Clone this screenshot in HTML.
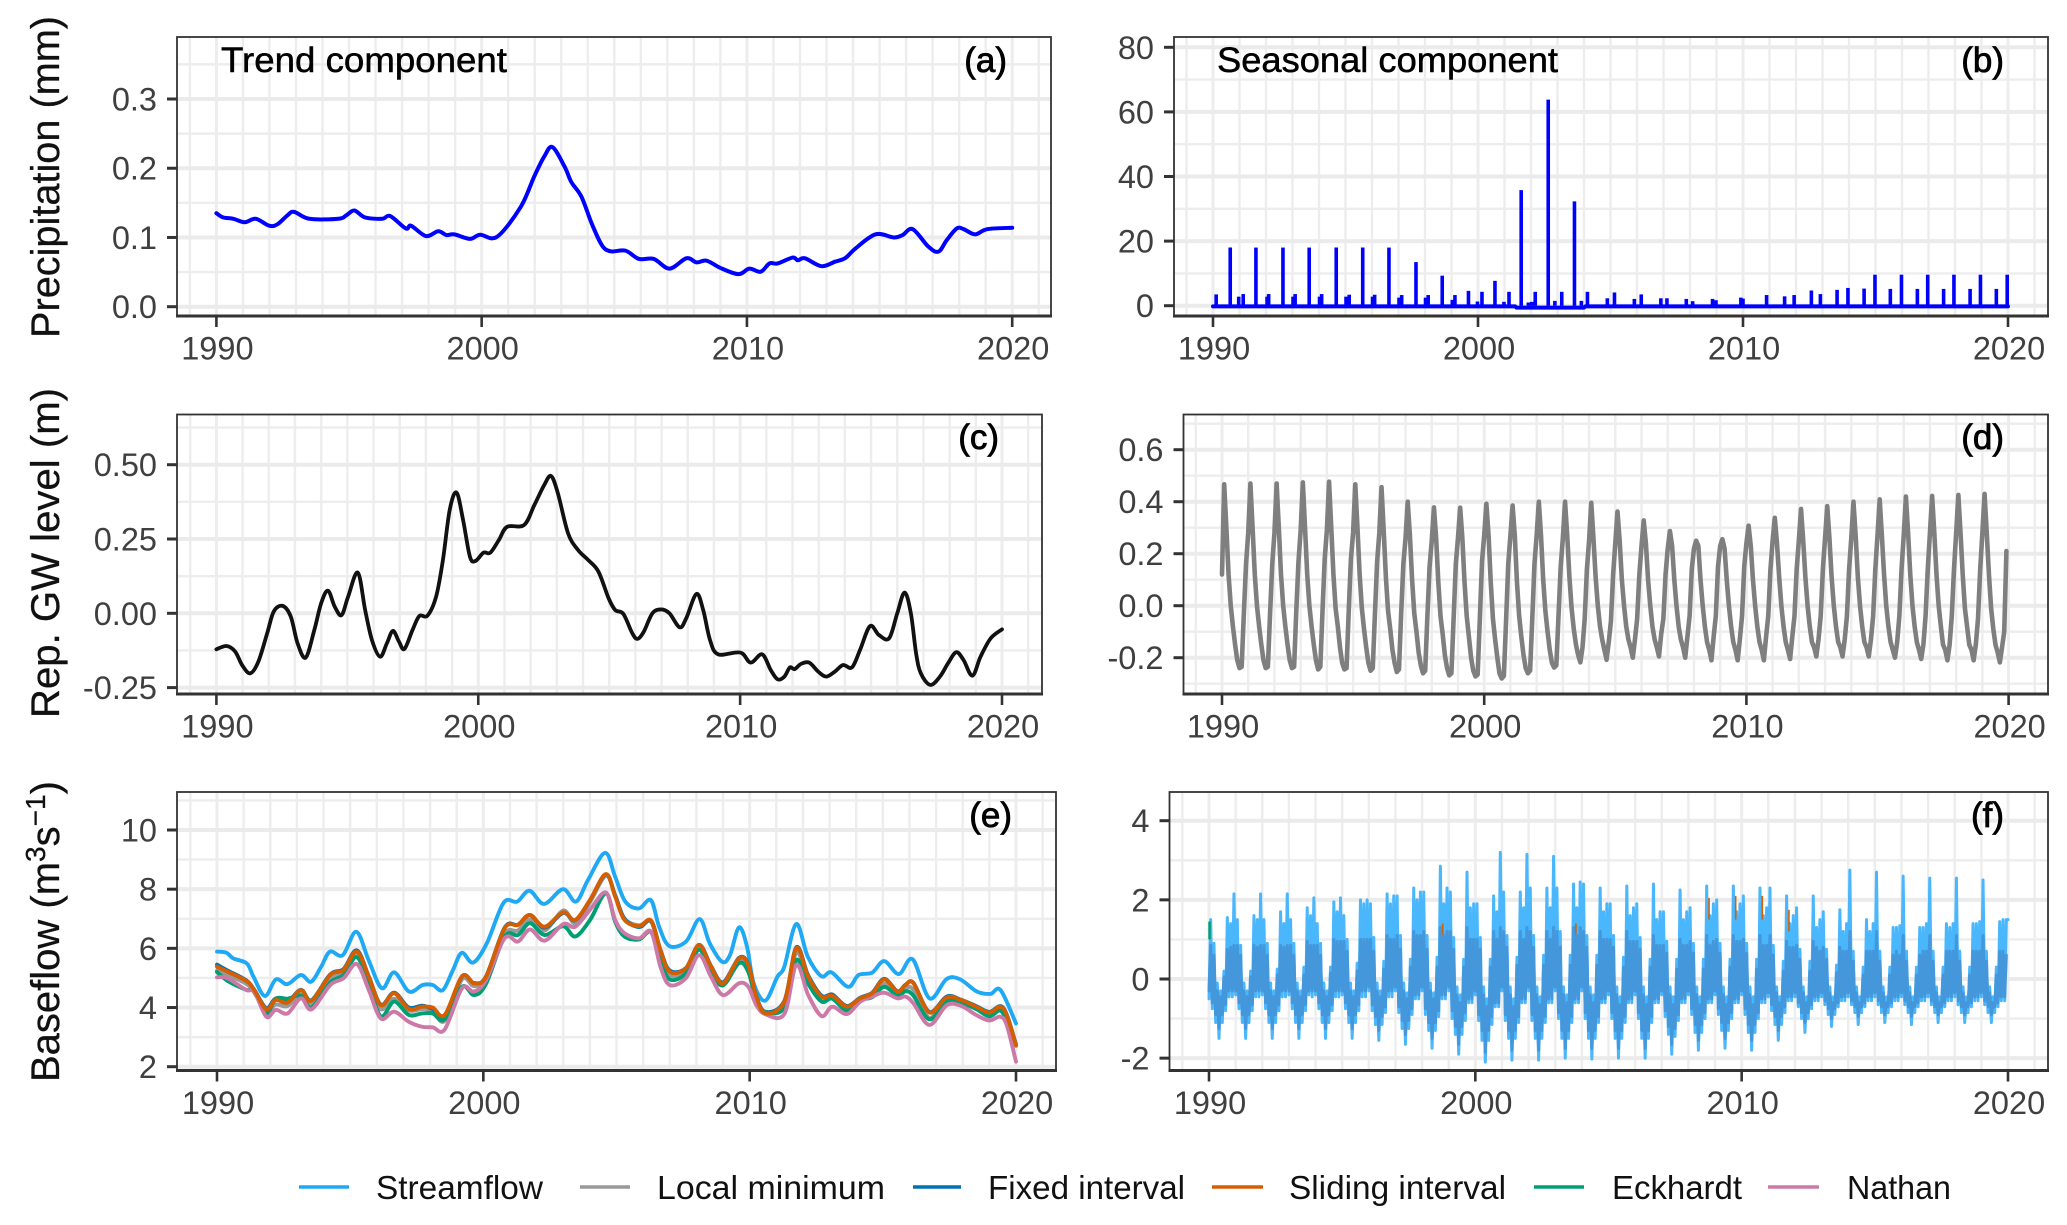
<!DOCTYPE html>
<html lang="en">
<head>
<meta charset="utf-8">
<title>Trend and seasonal components of precipitation, groundwater level and baseflow</title>
<style>
html,body{margin:0;padding:0;background:#fff;width:2067px;height:1225px;overflow:hidden}
svg{display:block}
text{font-family:"Liberation Sans",Arial,sans-serif}
.axt{font-size:40px;fill:#111;stroke:#111;stroke-width:.3px}
.ttl{font-size:35px;fill:#000;stroke:#000;stroke-width:.5px}
.tag{font-size:35px;fill:#000;stroke:#000;stroke-width:.8px}
.leg{font-size:33px;fill:#111}
</style>
</head>
<body>
<svg id="figure" xmlns="http://www.w3.org/2000/svg" width="2067" height="1225" viewBox="0 0 2067 1225">
<rect x="0" y="0" width="2067" height="1225" fill="#fff"/>
<g id="panels"></g>
<text class="axt" transform="translate(59,338) rotate(-90)" textLength="322" lengthAdjust="spacingAndGlyphs">Precipitation (mm)</text>
<text class="axt" transform="translate(59,718) rotate(-90)" textLength="330" lengthAdjust="spacingAndGlyphs">Rep. GW level (m)</text>
<text class="axt" transform="translate(59,1082) rotate(-90)">Baseflow (m<tspan font-size="28" dy="-14">3</tspan><tspan dy="14">s</tspan><tspan font-size="28" dy="-14">−1</tspan><tspan dy="14">)</tspan></text>
<text class="ttl" x="221" y="72" textLength="286" lengthAdjust="spacingAndGlyphs">Trend component</text>
<text class="ttl" x="1217" y="72" textLength="341" lengthAdjust="spacingAndGlyphs">Seasonal component</text>
<text class="tag" x="1007" y="72" text-anchor="end">(a)</text>
<text class="tag" x="2004" y="72" text-anchor="end">(b)</text>
<text class="tag" x="999" y="449" text-anchor="end">(c)</text>
<text class="tag" x="2004" y="449" text-anchor="end">(d)</text>
<text class="tag" x="1012" y="827" text-anchor="end">(e)</text>
<text class="tag" x="2004" y="827" text-anchor="end">(f)</text>
<g>
<line x1="299" x2="349" y1="1187" y2="1187" stroke="#1FA9F5" stroke-width="3.5"/>
<text class="leg" x="376" y="1199" textLength="167" lengthAdjust="spacingAndGlyphs">Streamflow</text>
<line x1="580" x2="630" y1="1187" y2="1187" stroke="#999999" stroke-width="3.5"/>
<text class="leg" x="657" y="1199" textLength="228" lengthAdjust="spacingAndGlyphs">Local minimum</text>
<line x1="913" x2="961" y1="1187" y2="1187" stroke="#0072B2" stroke-width="3.5"/>
<text class="leg" x="988" y="1199" textLength="197" lengthAdjust="spacingAndGlyphs">Fixed interval</text>
<line x1="1212" x2="1263" y1="1187" y2="1187" stroke="#D55E00" stroke-width="3.5"/>
<text class="leg" x="1289" y="1199" textLength="217" lengthAdjust="spacingAndGlyphs">Sliding interval</text>
<line x1="1534" x2="1584" y1="1187" y2="1187" stroke="#009E73" stroke-width="3.5"/>
<text class="leg" x="1612" y="1199" textLength="130" lengthAdjust="spacingAndGlyphs">Eckhardt</text>
<line x1="1768" x2="1819" y1="1187" y2="1187" stroke="#CC79A7" stroke-width="3.5"/>
<text class="leg" x="1847" y="1199" textLength="104" lengthAdjust="spacingAndGlyphs">Nathan</text>
</g>
</svg>
<script>
// ---- shared tick data ----
const xTickYears = [1990, 2000, 2010, 2020];
const xTickLabels = ['1990', '2000', '2010', '2020'];

const aYTicks = [0, 0.1, 0.2, 0.3];
const aYLabels = ['0.0', '0.1', '0.2', '0.3'];
const bYTicks = [0, 20, 40, 60, 80];
const bYLabels = ['0', '20', '40', '60', '80'];
const cYTicks = [-0.25, 0, 0.25, 0.5];
const cYLabels = ['-0.25', '0.00', '0.25', '0.50'];
const dYTicks = [-0.2, 0, 0.2, 0.4, 0.6];
const dYLabels = ['-0.2', '0.0', '0.2', '0.4', '0.6'];
const eYTicks = [2, 4, 6, 8, 10];
const eYLabels = ['2', '4', '6', '8', '10'];
const fYTicks = [-2, 0, 2, 4];
const fYLabels = ['-2', '0', '2', '4'];

// ---- (a) precipitation trend: years since 1990, value in mm ----
const aYears = [0,.25,.64,1.07,1.48,1.99,2.3,2.68,2.93,3.5,4.6,4.9,5.2,5.6,6.25,6.55,7.14,7.34,7.9,8.36,8.67,8.97,9.56,9.94,10.58,11.47,11.98,12.36,12.67,13.13,13.38,13.76,14.15,14.53,14.86,15.42,15.93,16.49,17.08,17.72,18.1,18.48,19,19.68,20.09,20.52,20.85,21.16,21.72,21.92,22.18,22.81,23.32,23.7,24.09,24.85,25.54,25.87,26.25,26.84,27.22,27.53,27.91,28.17,28.6,29.06,30];
const aValues = [.135,.129,.127,.122,.127,.117,.119,.132,.137,.127,.127,.132,.139,.129,.127,.131,.113,.117,.102,.109,.1035,.1045,.098,.104,.101,.144,.188,.217,.2305,.202,.18,.159,.12,.089,.08,.081,.069,.069,.055,.07,.064,.0665,.056,.047,.055,.0505,.0625,.0625,.071,.067,.07,.0585,.065,.07,.084,.1045,.1,.1035,.112,.0867,.0795,.096,.113,.112,.1045,.112,.114];

// ---- (b) precipitation seasonal spikes: years since 1990, value in mm ----
const bSpikeYears = [.12,.65,.97,1.14,1.62,2.04,2.1,2.64,3.02,3.1,3.63,4.02,4.1,4.65,5.02,5.14,5.65,6.02,6.1,6.64,7.02,7.12,7.66,8.02,8.12,8.65,9.03,9.13,9.64,9.98,10.15,10.64,10.98,11.17,11.63,11.9,12.03,12.16,12.65,12.9,13.16,13.64,13.9,14.13,14.88,15.15,15.9,16.16,16.9,17.13,17.86,18.1,18.85,18.98,19.92,20.0,20.89,21.57,21.93,22.58,22.92,23.55,23.96,24.57,24.98,25.56,25.98,26.58,26.97,27.57,27.96,28.57,28.96,29.56,29.97];
const bSpikeValues = [3.5,18,2.8,3.6,18,2.8,3.6,18,2.8,3.6,18,2.8,3.6,18,2.8,3.4,18,2.8,3.4,18,2.5,3.3,13.5,2.5,3.3,9.3,1.8,3.3,4.6,1.3,4.3,7.7,1.2,4.3,35.8,1,1.2,4.3,63.8,1.5,4.3,32.3,1.5,4.3,2.3,4.1,2.1,3.5,2.3,2.3,2.1,1.4,2.1,1.7,2.5,2.2,3.3,2.9,3.3,4.7,3.6,4.9,5.5,5.3,9.6,5.2,9.6,5.2,9.6,5.2,9.6,5.2,9.6,5.2,9.6];
const bBaseYears = [0,11.4,11.45,14.0,14.05,30];
const bBaseValues = [-.2,-.2,-.6,-.6,-.2,-.2];

// ---- (c) groundwater trend ----
const cYears = [0,.39,.72,.98,1.29,1.6,1.94,2.19,2.53,2.84,3.1,3.41,3.74,4,4.26,4.52,4.78,5.03,5.4,5.68,5.94,6.25,6.51,6.74,6.97,7.18,7.49,7.75,8.06,8.39,8.65,8.91,9.17,9.42,9.68,9.89,10.2,10.46,10.79,11.1,11.75,12.14,12.52,12.78,13.04,13.43,13.81,14.2,14.59,14.98,15.23,15.54,15.88,16.08,16.32,16.65,16.99,17.3,17.69,17.94,18.33,18.59,18.85,19.16,20.01,20.4,20.84,21.17,21.43,21.69,21.9,22.08,22.33,22.64,22.98,23.29,23.62,23.93,24.27,24.58,24.96,25.3,25.69,26,26.28,26.52,26.72,26.9,27.26,27.63,27.94,28.25,28.53,28.87,29.18,29.57,30];
const cValues = [-.121,-.11,-.129,-.174,-.202,-.163,-.067,.006,.025,-.011,-.101,-.149,-.056,.034,.076,.022,-.006,.056,.137,.011,-.09,-.146,-.101,-.059,-.095,-.12,-.056,-.009,-.008,.056,.179,.348,.406,.314,.191,.176,.204,.204,.247,.291,.297,.364,.432,.462,.404,.269,.213,.179,.14,.05,.011,-.002,-.067,-.086,-.062,0,.013,0,-.047,-.017,.065,.011,-.09,-.138,-.132,-.166,-.138,-.191,-.222,-.213,-.182,-.188,-.17,-.166,-.196,-.213,-.196,-.174,-.182,-.123,-.043,-.073,-.084,0,.07,0,-.135,-.202,-.241,-.213,-.168,-.131,-.157,-.21,-.146,-.084,-.054];

// ---- (d) groundwater seasonal: 12 readings per year, 1990 to 2019 ----
const dStepsPerYear = 12;
const dValues = [
 .12,.467,.30,.12,.0,-.08,-.15,-.21,-.24,-.235,-.03,.16,
 .28,.47,.30,.12,.0,-.08,-.15,-.21,-.24,-.235,-.03,.16,
 .28,.47,.30,.12,.0,-.08,-.15,-.21,-.24,-.235,-.02,.17,
 .29,.474,.30,.12,.0,-.08,-.15,-.21,-.245,-.235,-.02,.18,
 .29,.477,.30,.12,-.01,-.08,-.16,-.22,-.245,-.24,-.02,.18,
 .28,.467,.30,.12,-.01,-.09,-.16,-.22,-.25,-.24,-.03,.17,
 .28,.456,.29,.11,-.02,-.09,-.17,-.22,-.255,-.245,-.03,.16,
 .26,.40,.27,.10,-.03,-.10,-.18,-.23,-.26,-.25,-.04,.15,
 .25,.378,.26,.09,-.04,-.11,-.19,-.24,-.268,-.26,-.05,.16,
 .26,.377,.26,.09,-.04,-.12,-.20,-.25,-.272,-.265,-.05,.17,
 .27,.392,.27,.09,-.05,-.13,-.20,-.26,-.28,-.27,-.06,.16,
 .27,.385,.27,.09,-.04,-.12,-.19,-.24,-.26,-.25,-.05,.16,
 .27,.40,.27,.10,-.02,-.10,-.17,-.22,-.238,-.23,-.04,.15,
 .26,.40,.27,.11,-.01,-.09,-.15,-.19,-.218,-.16,-.05,.14,
 .25,.396,.26,.11,.0,-.08,-.13,-.17,-.208,-.14,-.06,.12,
 .24,.362,.25,.10,.0,-.08,-.13,-.16,-.20,-.13,-.05,.12,
 .23,.328,.24,.10,.0,-.08,-.13,-.16,-.195,-.11,-.05,.12,
 .22,.287,.23,.10,.0,-.08,-.13,-.16,-.20,-.12,-.04,.14,
 .22,.25,.23,.10,.0,-.08,-.14,-.17,-.21,-.12,-.04,.15,
 .23,.256,.22,.10,.0,-.08,-.14,-.17,-.21,-.13,-.04,.15,
 .24,.308,.23,.10,.0,-.08,-.14,-.17,-.21,-.12,-.04,.14,
 .25,.338,.24,.11,.0,-.08,-.14,-.17,-.205,-.12,-.04,.14,
 .25,.372,.25,.11,.0,-.08,-.14,-.16,-.195,-.13,-.04,.14,
 .26,.383,.26,.11,.0,-.08,-.14,-.16,-.195,-.13,-.04,.14,
 .26,.40,.27,.11,.0,-.08,-.14,-.16,-.195,-.13,-.04,.14,
 .27,.409,.27,.12,.0,-.08,-.14,-.17,-.20,-.14,-.04,.14,
 .27,.42,.28,.12,.0,-.08,-.14,-.17,-.205,-.15,-.04,.14,
 .28,.422,.28,.12,.0,-.08,-.15,-.17,-.21,-.15,-.04,.14,
 .28,.426,.28,.12,-.01,-.08,-.15,-.17,-.21,-.15,-.05,.14,
 .28,.43,.28,.12,-.01,-.09,-.15,-.18,-.218,-.16,-.10,.21
];

// ---- (e) baseflow: years since 1990 ----
const eFlowYears = [0,.36,.61,1.12,1.37,1.8,2.21,2.64,3.15,3.53,3.91,4.24,4.72,5.23,5.69,6.19,6.65,7.21,7.72,8.1,8.48,8.86,9.19,9.62,10.13,10.76,11.27,11.73,12.28,12.99,13.48,13.93,14.57,14.95,15.33,15.84,16.29,16.6,16.98,17.61,18.12,18.5,18.96,19.26,19.6,19.9,20.15,20.58,21.04,21.3,21.75,22.18,22.69,23.07,23.7,24.09,24.6,25.05,25.6,26.12,26.75,27.39,27.89,28.53,29.04,29.42,30];
const eStreamflow = [5.89,5.85,5.66,5.49,5.04,4.39,4.95,4.79,5.1,4.87,5.38,5.89,5.77,6.56,5.61,4.65,5.19,4.54,4.76,4.76,4.59,5.27,5.85,5.52,6.17,7.54,7.58,7.95,7.5,8.0,7.58,8.31,9.23,8.42,7.58,7.35,7.63,6.73,6.08,6.23,6.99,6.17,5.55,5.77,6.71,6.06,4.82,4.23,5.04,5.38,6.82,5.72,5.06,5.19,4.7,5.1,5.18,5.57,5.13,5.63,4.31,4.96,4.96,4.54,4.46,4.59,3.46];
const eYears = [0,.4,1.1,1.4,1.85,2.2,2.65,3.15,3.55,4.25,
 4.75,5.25,5.7,6.15,6.65,7.2,7.7,8.1,8.55,9.2,
 9.65,10.1,10.8,11.3,11.75,12.3,13,13.45,14,14.6,
 14.95,15.3,15.85,16.3,16.65,17,17.6,18.1,18.55,19,
 19.6,19.95,20.25,20.6,21.3,21.75,22.2,22.7,23.1,23.65,
 24.15,24.6,25.05,25.55,25.85,26.15,26.75,27.4,27.95,28.5,
 29,29.4,29.65,30];
const eLocalMinimum = [5.25,5.1,4.8,4.5,3.85,4.1,4.05,4.45,4.1,5.0,
 5.2,5.78,4.9,3.95,4.3,3.9,3.95,3.9,3.55,4.95,
 4.72,5.0,6.5,6.6,6.98,6.6,7.28,6.85,7.55,8.45,
 7.8,7.0,6.78,6.9,5.85,5.1,5.25,6.0,5.3,4.8,
 5.6,5.3,4.3,3.85,4.15,5.85,4.95,4.25,4.45,4.0,
 4.3,4.4,4.8,4.45,4.65,4.6,3.65,4.3,4.2,4.0,
 3.8,3.95,3.65,2.7];
const eFixedInterval = [5.45,5.25,4.92,4.6,3.98,4.3,4.2,4.6,4.25,5.12,
 5.3,5.93,5.05,4.1,4.5,4.0,4.06,3.95,3.72,5.05,
 4.83,5.05,6.7,6.8,7.13,6.7,7.2,6.95,7.62,8.5,
 7.78,7.0,6.72,6.92,5.95,5.25,5.33,6.12,5.4,4.85,
 5.68,5.46,4.38,3.85,4.22,6.03,5.08,4.4,4.43,4.05,
 4.33,4.5,4.97,4.55,4.77,4.83,3.85,4.37,4.26,4.05,
 3.85,4.05,3.77,2.75];
const eSlidingInterval = [5.38,5.21,4.9,4.59,3.94,4.25,4.17,4.59,4.23,5.1,
 5.27,5.89,5.04,4.08,4.48,3.95,4.03,4.0,3.75,5.06,
 4.82,5.04,6.68,6.79,7.13,6.73,7.22,6.96,7.63,8.51,
 7.75,6.96,6.75,6.94,5.94,5.21,5.32,6.11,5.38,4.82,
 5.66,5.44,4.37,3.8,4.2,6.0,5.04,4.37,4.4,4.03,
 4.31,4.48,4.95,4.54,4.76,4.82,3.83,4.34,4.25,4.03,
 3.83,4.03,3.75,2.73];
const eEckhardt = [5.2,4.9,4.6,4.55,3.8,4.3,4.3,4.4,4.0,4.85,
 5.1,5.7,4.8,3.7,4.2,3.75,3.8,3.8,3.6,4.7,
 4.42,4.8,6.4,6.45,6.85,6.45,6.75,6.4,6.95,7.85,
 6.9,6.4,6.3,6.55,5.6,4.95,5.15,5.95,5.2,4.75,
 5.5,5.2,4.25,3.85,4.0,5.6,4.8,4.2,4.3,3.9,
 4.25,4.35,4.7,4.4,4.55,4.4,3.6,4.2,4.15,3.95,
 3.7,3.9,3.55,2.75];
const eNathan = [5.02,4.99,4.59,4.54,3.69,3.92,3.8,4.31,3.94,4.76,
 4.99,5.47,4.59,3.63,3.86,3.52,3.35,3.33,3.26,4.65,
 4.54,4.93,6.34,6.23,6.64,6.26,6.82,6.73,7.3,7.89,
 6.96,6.51,6.34,6.56,5.38,4.76,4.99,5.77,5.04,4.42,
 4.82,4.7,4.08,3.77,3.78,5.44,4.42,3.71,4.03,3.78,
 4.2,4.37,4.5,4.31,4.37,4.14,3.41,4.08,4.05,3.75,
 3.56,3.69,3.41,2.17];

// ---- (f) seasonal flow: 16 readings per year, 1990 to 2019 ----
const fStepsPerYear = 16;
const fStreamflow = [
 -.5,1.5,-.75,.9,-1.1,-.1,-1.5,-.3,-1.1,.2,-.8,1.55,-.45,1.4,-.45,2.15,
 -.4,1.5,-.75,.85,-1.1,-.1,-1.5,-.3,-1.1,.2,-.8,1.6,-.45,1.5,-.45,2.15,
 -.4,1.5,-.75,.9,-1.1,-.1,-1.5,-.3,-1.1,.25,-.8,1.7,-.45,1.4,-.45,2.15,
 -.4,1.5,-.75,.9,-1.1,-.1,-1.5,-.3,-1.1,.3,-.8,1.8,-.4,1.6,-.45,2.05,
 -.4,1.4,-.75,.9,-1.1,-.1,-1.5,-.3,-1.1,.3,-.8,1.95,-.45,1.7,-.45,2.05,
 -.4,1.6,-.75,1.0,-1.1,-.1,-1.5,-.3,-1.1,.4,-.8,2.0,-.45,1.9,-.45,2.0,
 -.3,1.9,-.8,1.05,-1.15,-.1,-1.55,-.3,-1.15,.45,-.85,2.15,-.45,1.9,-.45,2.1,
 -.3,2.1,-.85,1.1,-1.25,-.1,-1.65,-.35,-1.25,.5,-.9,2.3,-.5,2.0,-.5,2.2,
 -.3,2.2,-.9,1.1,-1.3,-.1,-1.75,-.35,-1.3,.55,-.95,2.85,-.5,1.9,-.5,2.3,
 -.3,2.2,-1.0,1.05,-1.4,-.2,-1.9,-.4,-1.4,.5,-1.05,2.7,-.6,1.8,-.6,1.9,
 -.4,1.9,-1.05,1.05,-1.55,-.2,-2.1,-.5,-1.55,.5,-1.15,2.1,-.7,1.7,-.7,3.2,
 -.3,2.2,-1.05,1.1,-1.5,-.2,-2.05,-.5,-1.5,.55,-1.1,2.2,-.6,1.8,-.6,3.15,
 -.3,2.3,-1.05,1.1,-1.5,-.2,-2.05,-.45,-1.5,.6,-1.1,2.3,-.6,1.8,-.6,3.1,
 -.3,2.3,-1.0,1.2,-1.5,-.2,-2.0,-.4,-1.5,.6,-1.1,2.4,-.6,1.8,-.6,2.45,
 -.3,2.4,-1.0,1.1,-1.5,-.2,-2.02,-.4,-1.5,.6,-1.1,2.3,-.6,1.7,-.6,1.9,
 -.4,1.9,-1.0,1.1,-1.5,-.2,-2.0,-.45,-1.5,.55,-1.1,2.35,-.6,1.6,-.6,1.8,
 -.4,1.9,-1.0,1.05,-1.5,-.2,-2.0,-.45,-1.5,.5,-1.1,2.4,-.6,1.5,-.6,1.7,
 -.4,1.7,-.95,.95,-1.4,-.2,-1.9,-.45,-1.45,.5,-1.05,2.25,-.6,1.5,-.6,1.7,
 -.4,1.8,-.9,.9,-1.35,-.2,-1.8,-.45,-1.35,.5,-1.0,2.35,-.6,1.6,-.6,1.9,
 -.4,2.0,-.9,.9,-1.3,-.2,-1.75,-.45,-1.3,.5,-1.0,2.35,-.6,1.7,-.6,1.9,
 -.4,2.1,-.9,.9,-1.35,-.2,-1.8,-.45,-1.35,.5,-1.0,2.3,-.6,1.6,-.6,1.8,
 -.45,2.3,-.8,.85,-1.15,-.2,-1.55,-.45,-1.15,.45,-.85,2.1,-.55,1.4,-.55,1.6,
 -.45,1.8,-.7,.75,-1.0,-.2,-1.35,-.45,-1.0,.45,-.75,2.1,-.55,1.3,-.55,1.5,
 -.45,1.7,-.65,.75,-.9,-.2,-1.2,-.45,-.9,.35,-.7,1.75,-.55,1.2,-.55,1.4,
 -.45,2.75,-.65,.7,-.85,-.2,-1.15,-.45,-.85,.3,-.7,1.5,-.55,1.2,-.55,1.4,
 -.45,2.7,-.65,.7,-.85,-.2,-1.1,-.45,-.85,.3,-.7,1.3,-.55,1.3,-.55,1.35,
 -.45,2.6,-.65,.7,-.85,-.2,-1.15,-.45,-.85,.3,-.7,1.3,-.55,1.3,-.55,1.4,
 -.45,2.55,-.65,.7,-.85,-.2,-1.1,-.45,-.85,.3,-.7,1.4,-.55,1.3,-.55,1.4,
 -.45,2.55,-.65,.7,-.85,-.2,-1.1,-.45,-.85,.3,-.7,1.4,-.55,1.4,-.55,1.45,
 -.45,2.5,-.65,.7,-.85,-.2,-1.1,-.45,-.85,.3,-.7,1.45,-.55,1.5,-.55,1.5
];
const fBaseflow = [
 -.3,.85,-.6,.6,-.9,-.3,-1.25,-.45,-.9,.05,-.65,.75,-.3,.8,-.3,.85,
 -.3,.85,-.6,.6,-.9,-.3,-1.25,-.45,-.9,.05,-.65,.85,-.3,.8,-.3,.85,
 -.3,.85,-.6,.6,-.9,-.3,-1.25,-.45,-.9,.1,-.65,.85,-.3,.8,-.3,.85,
 -.3,.85,-.6,.6,-.9,-.3,-1.25,-.45,-.9,.1,-.65,.95,-.3,.85,-.3,.85,
 -.3,.85,-.6,.6,-.9,-.3,-1.25,-.45,-.9,.15,-.65,1.0,-.3,.95,-.3,.95,
 -.3,.95,-.6,.7,-.9,-.3,-1.25,-.45,-.9,.2,-.65,1.0,-.3,1.0,-.3,1.0,
 -.2,1.0,-.65,.7,-.95,-.3,-1.3,-.45,-.95,.25,-.7,1.1,-.3,1.0,-.3,1.0,
 -.2,1.1,-.7,.75,-1.05,-.3,-1.4,-.5,-1.05,.3,-.75,1.2,-.4,1.1,-.4,1.1,
 -.2,1.2,-.75,.75,-1.1,-.3,-1.5,-.5,-1.1,.3,-.8,1.3,-.4,1.1,-.4,1.2,
 -.2,1.2,-.8,.75,-1.2,-.4,-1.65,-.6,-1.2,.3,-.85,1.3,-.5,1.0,-.5,1.0,
 -.3,1.0,-.9,.75,-1.3,-.4,-1.85,-.7,-1.3,.3,-.95,1.2,-.6,1.0,-.6,1.3,
 -.2,1.2,-.9,.8,-1.3,-.4,-1.8,-.7,-1.3,.35,-.95,1.2,-.5,1.0,-.5,1.3,
 -.2,1.2,-.9,.8,-1.3,-.4,-1.8,-.65,-1.3,.35,-.95,1.2,-.5,1.0,-.5,1.3,
 -.2,1.2,-.85,.8,-1.3,-.4,-1.75,-.6,-1.3,.35,-.95,1.3,-.5,1.1,-.5,1.3,
 -.2,1.2,-.85,.8,-1.3,-.4,-1.75,-.6,-1.3,.35,-.95,1.2,-.5,1.0,-.5,1.0,
 -.3,1.0,-.85,.8,-1.3,-.4,-1.75,-.65,-1.3,.3,-.95,1.2,-.5,.95,-.5,.95,
 -.3,.95,-.85,.75,-1.3,-.4,-1.75,-.65,-1.3,.3,-.95,1.1,-.5,.85,-.5,.85,
 -.3,.85,-.8,.65,-1.2,-.4,-1.65,-.65,-1.25,.25,-.9,1.0,-.5,.85,-.5,.85,
 -.3,.95,-.75,.65,-1.15,-.4,-1.55,-.65,-1.15,.25,-.85,1.1,-.5,.85,-.5,.95,
 -.3,1.0,-.75,.65,-1.1,-.4,-1.5,-.65,-1.1,.3,-.85,1.1,-.5,.95,-.5,.95,
 -.3,1.0,-.75,.65,-1.15,-.4,-1.55,-.65,-1.15,.25,-.85,1.1,-.5,.85,-.5,.85,
 -.35,1.1,-.65,.6,-.95,-.35,-1.3,-.6,-.95,.2,-.7,.95,-.45,.8,-.45,.8,
 -.35,.85,-.6,.5,-.85,-.35,-1.1,-.6,-.85,.2,-.65,.95,-.45,.8,-.45,.7,
 -.35,.8,-.55,.5,-.75,-.35,-1.0,-.6,-.75,.15,-.6,.8,-.45,.7,-.45,.7,
 -.35,1.2,-.55,.45,-.7,-.35,-.95,-.6,-.7,.1,-.6,.7,-.45,.7,-.45,.7,
 -.35,1.2,-.55,.45,-.7,-.35,-.9,-.6,-.7,.1,-.6,.6,-.45,.7,-.45,.6,
 -.35,1.1,-.55,.45,-.7,-.35,-.95,-.6,-.7,.1,-.6,.6,-.45,.7,-.45,.7,
 -.35,1.1,-.55,.45,-.7,-.35,-.9,-.6,-.7,.1,-.6,.7,-.45,.7,-.45,.7,
 -.35,1.1,-.55,.45,-.7,-.35,-.9,-.6,-.7,.1,-.6,.7,-.45,.7,-.45,.7,
 -.35,1.1,-.55,.45,-.7,-.35,-.9,-.6,-.7,.1,-.6,.7,-.45,.7,-.45,.6
];
const fSlidingYears = [18.7,19.7,20.7,21.7,8.7,13.7];
const fSlidingLow = [1.5,1.5,1.5,1.2,1.0,.8];
const fSlidingHigh = [2.05,2.1,2.1,1.75,1.4,1.4];
const fEckhardtYears = [.02];
const fEckhardtLow = [1.0];
const fEckhardtHigh = [1.45];

// ---- layout ----
const NS = 'http://www.w3.org/2000/svg';
const root = document.getElementById('panels');
function mk(tag, attrs, parent) {
  const el = document.createElementNS(NS, tag);
  for (const k in attrs) el.setAttribute(k, attrs[k]);
  parent.appendChild(el);
  return el;
}
function xScale(p, year) { return p.x0 + (year - 1990) * (p.x1 - p.x0) / 30; }
function yScale(p, v) { return p.y0 + (v - p.v0) * (p.y1 - p.y0) / (p.v1 - p.v0); }
function linePath(pts) {
  return 'M' + pts.map(q => q[0].toFixed(2) + ' ' + q[1].toFixed(2)).join('L');
}
function curvePath(pts) {
  let d = 'M' + pts[0][0].toFixed(2) + ' ' + pts[0][1].toFixed(2);
  for (let i = 0; i < pts.length - 1; i++) {
    const a = pts[Math.max(i - 1, 0)], b = pts[i], c = pts[i + 1], e = pts[Math.min(i + 2, pts.length - 1)];
    const c1x = b[0] + (c[0] - a[0]) / 6, c1y = b[1] + (c[1] - a[1]) / 6;
    const c2x = c[0] - (e[0] - b[0]) / 6, c2y = c[1] - (e[1] - b[1]) / 6;
    d += 'C' + c1x.toFixed(2) + ' ' + c1y.toFixed(2) + ' ' + c2x.toFixed(2) + ' ' + c2y.toFixed(2) + ' ' + c[0].toFixed(2) + ' ' + c[1].toFixed(2);
  }
  return d;
}
function drawFrame(p, name, yTicks, yLabels) {
  const g = mk('g', {}, root);
  
  
  const step = yTicks[1] - yTicks[0];
  // minor horizontal grid
  const vTop = p.v0 + (p.t - p.y0) * (p.v1 - p.v0) / (p.y1 - p.y0);
  const vBot = p.v0 + (p.b - p.y0) * (p.v1 - p.v0) / (p.y1 - p.y0);
  for (let v = yTicks[0] - step * 1.5; v < vTop; v += step) {
    if (v <= vBot) continue;
    const y = yScale(p, v + 0);
    const gl = mk('line', {x1: p.l, x2: p.r, y1: y, y2: y, stroke: '#EDEDED', 'stroke-width': 2.4}, g);
    
    
  }
  // vertical grid, one per year
  for (let yr = 1989; yr <= 2021; yr++) {
    const x = xScale(p, yr);
    if (x <= p.l || x >= p.r) continue;
    const isMajor = xTickYears.indexOf(yr) >= 0;
    const gl = mk('line', {x1: x, x2: x, y1: p.t, y2: p.b, stroke: '#EDEDED', 'stroke-width': isMajor ? 3 : 2.4}, g);
    
    
  }
  // major horizontal grid
  yTicks.forEach(v => {
    const y = yScale(p, v);
    const gl = mk('line', {x1: p.l, x2: p.r, y1: y, y2: y, stroke: '#EBEBEB', 'stroke-width': 4}, g);
    
    
  });
  return g;
}
function drawAxes(p, g, yTicks, yLabels) {
  const border = mk('rect', {x: p.l, y: p.t, width: p.r - p.l, height: p.b - p.t, fill: 'none', stroke: '#333333', 'stroke-width': 1.8}, g);
  
  
  const base = mk('line', {x1: p.l - 1, x2: p.r + 1, y1: p.b, y2: p.b, stroke: '#333333', 'stroke-width': 3}, g);
  
  
  xTickYears.forEach((yr, i) => {
    const x = xScale(p, yr);
    const t = mk('line', {x1: x, x2: x, y1: p.b, y2: p.b + 11, stroke: '#333333', 'stroke-width': 2.6}, g);
    
    
    const lab = mk('text', {x: x + 1, y: p.b + 43.5, 'text-anchor': 'middle', 'font-size': 32.5, fill: '#3F3F3F'}, g);
    
    
    lab.textContent = xTickLabels[i];
  });
  yTicks.forEach((v, i) => {
    const y = yScale(p, v);
    const t = mk('line', {x1: p.l - 10, x2: p.l, y1: y, y2: y, stroke: '#333333', 'stroke-width': 3}, g);
    
    
    const lab = mk('text', {x: p.l - 20, y: y + 11.5, 'text-anchor': 'end', 'font-size': 32.5, fill: '#3F3F3F'}, g);
    
    
    lab.textContent = yLabels[i];
  });
}
function strokeSeries(g, d, color, width) {
  return mk('path', {d: d, fill: 'none', stroke: color, 'stroke-width': width, 'stroke-linejoin': 'round', 'stroke-linecap': 'round'}, g);
}
function offsetPoints(p, years, values) {
  return years.map((t, i) => [xScale(p, 1990 + t), yScale(p, values[i])]);
}
function regularPoints(p, values, perYear) {
  return values.map((v, i) => [xScale(p, 1990 + i / perYear), yScale(p, v)]);
}

const pa = {l:177, r:1051, t:37, b:316, x0:216.4, x1:1012.2, v0:0, y0:306.7, v1:0.3, y1:99};
const pb = {l:1174, r:2048, t:37, b:316, x0:1213, x1:2008, v0:0, y0:305.7, v1:80, y1:47.3};
const pc = {l:177, r:1042, t:414.5, b:694, x0:216.4, x1:1002, v0:0, y0:613.3, v1:0.5, y1:464.7};
const pd = {l:1183.5, r:2048, t:414.5, b:694, x0:1222, x1:2008.6, v0:0, y0:605.7, v1:0.6, y1:449.7};
const pe = {l:177, r:1056, t:792, b:1070.5, x0:217, x1:1016, v0:2, y0:1066.7, v1:10, y1:830};
const pf = {l:1169.5, r:2048, t:792, b:1070.5, x0:1209, x1:2008, v0:0, y0:979, v1:4, y1:820.7};

// (a)
const ga = drawFrame(pa, 'panel-a-precipitation-trend', aYTicks, aYLabels);
const sa = strokeSeries(ga, curvePath(offsetPoints(pa, aYears, aValues)), '#0000FF', 4);


drawAxes(pa, ga, aYTicks, aYLabels);

// (b)
const gb = drawFrame(pb, 'panel-b-precipitation-seasonal', bYTicks, bYLabels);
const sbBase = strokeSeries(gb, linePath(offsetPoints(pb, bBaseYears, bBaseValues)), '#0000FF', 4);


bSpikeYears.forEach((t, i) => {
  const x = xScale(pb, 1990 + t);
  const stem = mk('line', {x1: x, x2: x, y1: yScale(pb, 0), y2: yScale(pb, bSpikeValues[i]), stroke: '#0000FF', 'stroke-width': 3.6}, gb);
  
  
});
drawAxes(pb, gb, bYTicks, bYLabels);

// (c)
const gc = drawFrame(pc, 'panel-c-groundwater-trend', cYTicks, cYLabels);
const sc = strokeSeries(gc, curvePath(offsetPoints(pc, cYears, cValues)), '#111111', 3.8);


drawAxes(pc, gc, cYTicks, cYLabels);

// (d)
const gd = drawFrame(pd, 'panel-d-groundwater-seasonal', dYTicks, dYLabels);
const sd = strokeSeries(gd, linePath(regularPoints(pd, dValues, dStepsPerYear)), '#7F7F7F', 4.6);


drawAxes(pd, gd, dYTicks, dYLabels);

// (e)
const ge = drawFrame(pe, 'panel-e-baseflow-trend', eYTicks, eYLabels);
const seFlow = strokeSeries(ge, curvePath(offsetPoints(pe, eFlowYears, eStreamflow)), '#1FA9F5', 3.9);


const seLocal = strokeSeries(ge, curvePath(offsetPoints(pe, eYears, eLocalMinimum)), '#999999', 3.9);


const seFixed = strokeSeries(ge, curvePath(offsetPoints(pe, eYears, eFixedInterval)), '#0072B2', 3.9);


const seEck = strokeSeries(ge, curvePath(offsetPoints(pe, eYears, eEckhardt)), '#009E73', 3.9);


const seNathan = strokeSeries(ge, curvePath(offsetPoints(pe, eYears, eNathan)), '#CC79A7', 3.9);


const seSliding = strokeSeries(ge, curvePath(offsetPoints(pe, eYears, eSlidingInterval)), '#D55E00', 3.9);


drawAxes(pe, ge, eYTicks, eYLabels);

// (f)
const gf = drawFrame(pf, 'panel-f-baseflow-seasonal', fYTicks, fYLabels);
const sfFlow = strokeSeries(gf, linePath(regularPoints(pf, fStreamflow, fStepsPerYear).concat([[xScale(pf, 2020), yScale(pf, 1.5)]])), '#4AB6FC', 3);


fSlidingYears.forEach((t, i) => {
  const x = xScale(pf, 1990 + t);
  const m = mk('line', {x1: x + 2, x2: x + 2, y1: yScale(pf, fSlidingLow[i]), y2: yScale(pf, fSlidingHigh[i]), stroke: '#D55E00', 'stroke-width': 1.6}, gf);
  
  
});
fEckhardtYears.forEach((t, i) => {
  const x = xScale(pf, 1990 + t);
  const m = mk('line', {x1: x, x2: x, y1: yScale(pf, fEckhardtLow[i]), y2: yScale(pf, fEckhardtHigh[i]), stroke: '#009E73', 'stroke-width': 2.5}, gf);
  
  
});
const sfBase = strokeSeries(gf, linePath(regularPoints(pf, fBaseflow, fStepsPerYear)), '#4497DA', 3);


drawAxes(pf, gf, fYTicks, fYLabels);
</script>
</body>
</html>
